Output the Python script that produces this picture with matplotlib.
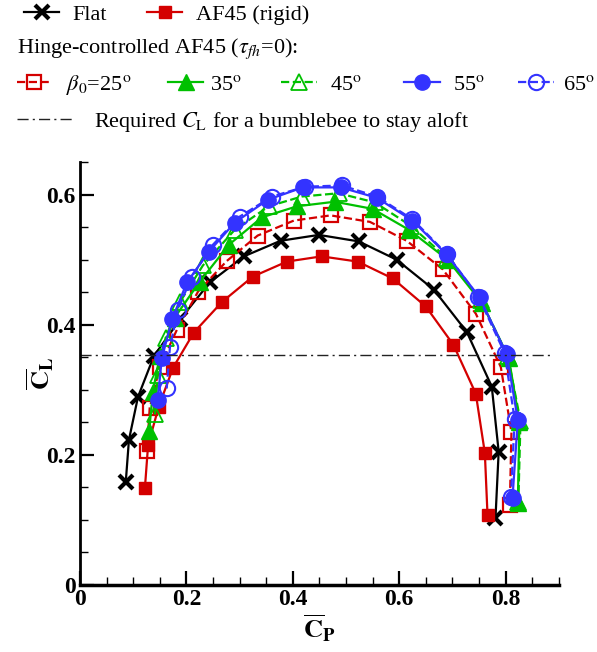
import matplotlib
matplotlib.use("Agg")
import matplotlib.pyplot as plt
from matplotlib.lines import Line2D
from matplotlib.ticker import MultipleLocator, FuncFormatter

plt.rcParams['font.family'] = 'Liberation Serif'
plt.rcParams['mathtext.fontset'] = 'stix'
plt.rcParams['font.size'] = 16

# Mean power coefficient (x) vs mean lift coefficient (y) over the stroke
flat_cp = [0.086, 0.092, 0.109, 0.139, 0.188, 0.244, 0.308, 0.377, 0.449, 0.524, 0.595, 0.665, 0.727, 0.774, 0.787, 0.781]
flat_cl = [0.158, 0.223, 0.289, 0.352, 0.408, 0.465, 0.505, 0.529, 0.538, 0.528, 0.500, 0.454, 0.389, 0.305, 0.205, 0.103]

rigid_cp = [0.122, 0.128, 0.148, 0.175, 0.214, 0.267, 0.325, 0.389, 0.454, 0.522, 0.588, 0.650, 0.702, 0.744, 0.761, 0.766]
rigid_cl = [0.149, 0.215, 0.274, 0.334, 0.388, 0.435, 0.474, 0.497, 0.505, 0.497, 0.471, 0.428, 0.369, 0.294, 0.203, 0.108]

b25_cp = [0.126, 0.131, 0.150, 0.182, 0.222, 0.276, 0.334, 0.402, 0.471, 0.545, 0.614, 0.682, 0.744, 0.791, 0.811, 0.808]
b25_cl = [0.206, 0.272, 0.335, 0.392, 0.451, 0.498, 0.537, 0.560, 0.568, 0.558, 0.529, 0.485, 0.417, 0.335, 0.235, 0.123]

b35_cp = [0.130, 0.137, 0.150, 0.178, 0.225, 0.280, 0.342, 0.408, 0.479, 0.550, 0.618, 0.691, 0.755, 0.806, 0.826, 0.823]
b35_cl = [0.237, 0.297, 0.352, 0.411, 0.466, 0.523, 0.565, 0.582, 0.589, 0.578, 0.546, 0.500, 0.434, 0.349, 0.251, 0.126]

b45_cp = [0.141, 0.146, 0.161, 0.188, 0.231, 0.291, 0.355, 0.417, 0.486, 0.554, 0.622, 0.689, 0.753, 0.804, 0.828, 0.824]
b45_cl = [0.262, 0.323, 0.380, 0.435, 0.491, 0.546, 0.582, 0.597, 0.602, 0.588, 0.552, 0.503, 0.438, 0.352, 0.252, 0.128]

b55_cp = [0.146, 0.154, 0.173, 0.201, 0.242, 0.291, 0.353, 0.419, 0.490, 0.558, 0.625, 0.689, 0.751, 0.802, 0.823, 0.813]
b55_cl = [0.285, 0.349, 0.408, 0.465, 0.512, 0.557, 0.592, 0.611, 0.611, 0.595, 0.560, 0.508, 0.442, 0.355, 0.254, 0.134]

b65_cp = [0.163, 0.169, 0.184, 0.210, 0.250, 0.300, 0.361, 0.423, 0.492, 0.558, 0.625, 0.689, 0.749, 0.798, 0.817, 0.810]
b65_cl = [0.302, 0.365, 0.423, 0.474, 0.523, 0.566, 0.597, 0.612, 0.614, 0.597, 0.562, 0.509, 0.443, 0.357, 0.255, 0.135]

cl_required = 0.354

RED = '#d40000'
GREEN = '#00c000'
BLUE = '#3333ff'

fig = plt.figure(figsize=(5.97, 6.52), dpi=100)
ax = fig.add_axes([0.134, 0.1028, 0.802, 0.6487])

styles = {
    'flat': dict(color='k', ls='-', lw=1.6, marker='x', ms=10, mew=3),
    'rigid': dict(color=RED, ls='-', lw=1.6, marker='s', ms=9, mfc=RED, mew=1),
    'b25': dict(color=RED, ls='--', lw=1.6, marker='s', ms=10, mfc='none', mew=1.6),
    'b35': dict(color=GREEN, ls='-', lw=1.6, marker='^', ms=11, mfc=GREEN, mew=1),
    'b45': dict(color=GREEN, ls='--', lw=1.6, marker='^', ms=11, mfc='none', mew=1.3),
    'b55': dict(color=BLUE, ls='-', lw=1.6, marker='o', ms=11, mfc=BLUE, mew=1),
    'b65': dict(color=BLUE, ls='--', lw=1.6, marker='o', ms=11, mfc='none', mew=1.5),
}
dashdot = dict(color='#222222', lw=1.0, ls=(0, (8, 3, 1.5, 3)))

ax.plot(flat_cp, flat_cl, **styles['flat'])
ax.plot(rigid_cp, rigid_cl, **styles['rigid'])
ax.plot(b25_cp, b25_cl, **styles['b25'])
ax.plot(b35_cp, b35_cl, **styles['b35'])
ax.plot(b45_cp, b45_cl, **styles['b45'])
ax.plot(b65_cp, b65_cl, **styles['b65'])
ax.plot(b55_cp, b55_cl, **styles['b55'])
ax.plot([0, 0.885], [cl_required, cl_required], **dashdot)

ax.set_xlim(0, 0.9)
ax.set_ylim(0, 0.65)
ax.spines['top'].set_visible(False)
ax.spines['right'].set_visible(False)
ax.spines['bottom'].set_linewidth(2.5)
ax.spines['left'].set_linewidth(2.0)

ax.xaxis.set_major_locator(MultipleLocator(0.2))
ax.xaxis.set_minor_locator(MultipleLocator(0.05))
ax.yaxis.set_major_locator(MultipleLocator(0.2))
ax.yaxis.set_minor_locator(MultipleLocator(0.05))
fmt = FuncFormatter(lambda v, p: '0' if abs(v) < 1e-9 else f'{v:.1f}')
ax.xaxis.set_major_formatter(fmt)
ax.yaxis.set_major_formatter(fmt)
ax.tick_params(which='major', direction='in', length=10, width=1.6, labelsize=17, pad=3)
ax.tick_params(which='minor', direction='in', length=6, width=1.0)
for lab in ax.get_xticklabels() + ax.get_yticklabels():
    lab.set_fontweight('bold')

ax.set_xlabel(r'$\overline{\mathbf{C}}_{\mathbf{P}}$', fontsize=19, labelpad=2)
ax.set_ylabel(r'$\overline{\mathbf{C}}_{\mathbf{L}}$', fontsize=19)
ax.yaxis.set_label_coords(-0.05, 0.5)

# legend rows above the axes, one entry per call so each can sit where it should
def add_entry(handle, label, x, y, hl=1.6, pad=0.6):
    fig.legend([handle], [label], loc='center left', bbox_to_anchor=(x, y),
               frameon=False, handlelength=hl, handletextpad=pad, borderpad=0,
               borderaxespad=0, numpoints=1, fontsize=16)

def h(key):
    return Line2D([], [], **styles[key])

add_entry(h('flat'), 'Flat', 0.040, 0.978)
add_entry(h('rigid'), 'AF45 (rigid)', 0.246, 0.978)
fig.text(0.028, 0.925, r'Hinge-controlled AF45 ($\tau_{fh}$=0):', fontsize=16, va='center')
add_entry(h('b25'), r'$\beta_0$=25$^{\rm o}$', 0.028, 0.870)
add_entry(h('b35'), r'35$^{\rm o}$', 0.281, 0.870, pad=0.3)
add_entry(h('b45'), r'45$^{\rm o}$', 0.471, 0.870)
add_entry(h('b55'), r'55$^{\rm o}$', 0.677, 0.870)
add_entry(h('b65'), r'65$^{\rm o}$', 0.868, 0.870, pad=0.4)
add_entry(Line2D([], [], **dashdot),
          r'Required $C_{\rm L}$ for a bumblebee to stay aloft', 0.028, 0.813, hl=2.6, pad=0.9)

fig.savefig('out.png', dpi=100)
